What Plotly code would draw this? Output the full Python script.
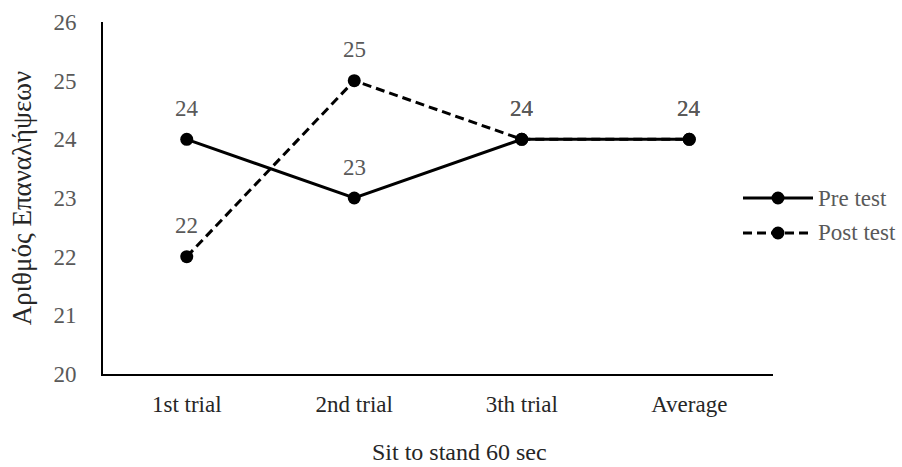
import plotly.graph_objects as go

categories = ["1st trial", "2nd trial", "3th trial", "Average"]
series_names = ["Pre test", "Post test"]
pre_test = [24, 23, 24, 24]
post_test = [22, 25, 24, 24]
y_ticks = [20, 21, 22, 23, 24, 25, 26]

SERIF = "Liberation Serif, Times New Roman, serif"
GREY = "#595959"
DARK = "#262626"
DASH = "9px,5px"

# plot-area geometry in pixels (used for the legend and x title placement)
FIG_W, FIG_H = 902, 467
M_L, M_R, M_T, M_B = 103, 129, 22, 93
PLOT_W = FIG_W - M_L - M_R
PLOT_H = FIG_H - M_T - M_B


def px_to_paper_x(px):
    return (px - M_L) / PLOT_W


def px_to_paper_y(py):
    return (FIG_H - M_B - py) / PLOT_H


fig = go.Figure()
for name, values, dash in [(series_names[0], pre_test, "solid"),
                           (series_names[1], post_test, DASH)]:
    fig.add_trace(go.Scatter(
        x=categories, y=values, name=name,
        mode="lines+markers",
        line=dict(color="black", width=3, dash=dash),
        marker=dict(color="black", size=13),
        showlegend=False,
    ))
    # value labels above each point
    for cat, v in zip(categories, values):
        fig.add_annotation(
            x=cat, y=v, text=str(v), showarrow=False,
            yshift=31, font=dict(family=SERIF, size=23, color=GREY),
        )

# legend: line + marker sample followed by the series name
shapes = []
for i, (name, dash) in enumerate([(series_names[0], "solid"), (series_names[1], DASH)]):
    yp = px_to_paper_y(198 + 35 * i)
    shapes.append(dict(
        type="line", xref="paper", yref="paper",
        x0=px_to_paper_x(743), x1=px_to_paper_x(813), y0=yp, y1=yp,
        line=dict(color="black", width=3, dash=dash),
    ))
    shapes.append(dict(
        type="circle", xref="paper", yref="paper",
        xsizemode="pixel", ysizemode="pixel",
        xanchor=px_to_paper_x(778), yanchor=yp,
        x0=-6.5, x1=6.5, y0=-6.5, y1=6.5,
        fillcolor="black", line=dict(color="black", width=0),
    ))
    fig.add_annotation(
        xref="paper", yref="paper", x=px_to_paper_x(816), y=yp,
        xanchor="left", yanchor="middle", text=name, showarrow=False,
        font=dict(family=SERIF, size=23, color=GREY),
    )

# x-axis title, centred on the whole chart area
fig.add_annotation(
    xref="paper", yref="paper", x=px_to_paper_x(459), y=px_to_paper_y(452),
    xanchor="center", yanchor="middle", text="Sit to stand 60 sec",
    showarrow=False, font=dict(family=SERIF, size=24, color=DARK),
)

fig.update_layout(
    width=FIG_W, height=FIG_H,
    margin=dict(l=M_L, r=M_R, t=M_T, b=M_B, autoexpand=False),
    paper_bgcolor="white", plot_bgcolor="white",
    font=dict(family=SERIF, size=23, color=GREY),
    showlegend=False,
    shapes=shapes,
    xaxis=dict(
        type="category", range=[-0.5, 3.5], automargin=False,
        showline=True, linecolor="black", linewidth=2,
        showgrid=False, zeroline=False, ticks="",
        ticklabelstandoff=8,
        tickfont=dict(family=SERIF, size=23, color=DARK),
    ),
    yaxis=dict(
        range=[20, 26], tickvals=y_ticks, automargin=False,
        showline=True, linecolor="black", linewidth=2,
        showgrid=False, zeroline=False, ticks="",
        ticklabelstandoff=20,
        tickfont=dict(family=SERIF, size=23, color=GREY),
        title=dict(text="Αριθμός Επαναλήψεων", standoff=14,
                   font=dict(family=SERIF, size=27, color=DARK)),
    ),
)

fig.write_html("out.html")
